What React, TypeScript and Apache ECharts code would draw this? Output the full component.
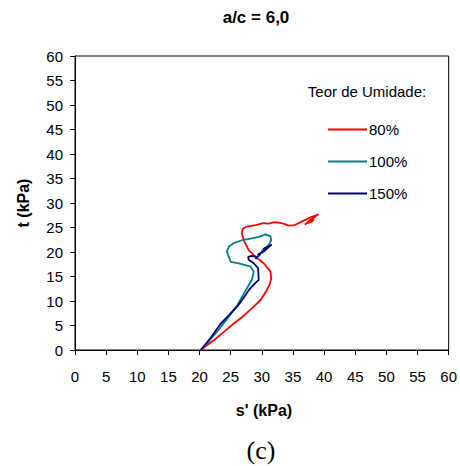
import React, { useEffect, useRef } from "react";
import * as echarts from "echarts";

const xTicks = [0, 60, 5];
const yTicks = [0, 60, 5];

const seriesNames = ["80%", "100%", "150%"];
const seriesColors = ["#ff0000", "#008080", "#000080"];

const w80: number[][] = [
  [20.2, 0], [21, 0.8], [22.3, 2.0], [24, 3.8], [25.5, 5.4], [27, 6.9], [28.4, 8.5],
  [29.8, 10.2], [30.8, 12.2], [31.3, 13.5], [31.5, 14.6], [31.4, 16.0], [30.3, 17.7],
  [29.0, 19.0], [27.9, 20.4], [27.1, 22.4], [26.8, 23.8], [26.9, 24.7], [27.6, 25.2],
  [29.0, 25.5], [30.2, 25.9], [31.1, 25.8], [32.0, 26.1], [32.7, 26.0], [33.5, 25.8],
  [34.3, 25.4], [35.3, 25.5], [36.4, 26.2], [37.5, 26.9], [38.5, 27.4], [39.1, 27.7],
  [38.3, 27.0], [37.7, 26.5], [36.9, 25.6], [37.6, 26.2], [38.4, 26.6], [37.3, 25.9],
  [38.2, 26.3],
];

const w100: number[][] = [
  [20.2, 0], [21.5, 1.8], [23, 4], [24.5, 6.5], [26, 9.0], [27.1, 11.5], [27.8, 13.0],
  [28.4, 14.3], [28.7, 16.0], [28.2, 17.0], [26.3, 17.7], [25.0, 18.0], [24.7, 19.0],
  [24.4, 20.1], [24.7, 21.1], [25.5, 21.8], [26.8, 22.4], [28.4, 22.8], [29.5, 23.1],
  [30.6, 23.6], [31.4, 23.2], [31.5, 22.4], [31.1, 21.4], [30.6, 20.8], [29.9, 20.1],
];

const w150: number[][] = [
  [20.2, 0], [21.8, 2.5], [23.4, 5.4], [24.8, 7.2], [26.0, 8.8], [27.0, 10.5],
  [27.9, 12.2], [28.9, 13.6], [29.5, 14.3], [29.4, 16.7], [28.7, 17.7], [27.9, 18.4],
  [27.8, 19.0], [28.4, 19.2], [29.2, 19.0], [29.0, 18.6], [29.8, 19.6], [29.3, 19.4],
  [30.4, 20.3], [29.6, 19.6], [30.9, 20.8], [30.2, 20.6], [31.6, 21.5], [30.8, 20.7],
  [31.3, 21.2], [30.0, 19.8], [30.6, 20.4],
];

const seriesData = [w80, w100, w150];

const FONT = "'Liberation Sans', Arial, sans-serif";

export default function App() {
  const ref = useRef<HTMLDivElement>(null);
  useEffect(() => {
    if (!ref.current) return;
    const chart = echarts.init(ref.current, null, { renderer: "svg" });
    chart.setOption({
      animation: false,
      backgroundColor: "#ffffff",
      textStyle: { fontFamily: FONT },
      grid: {
        left: 75,
        right: 10,
        top: 56,
        bottom: 116,
        show: true,
        borderColor: "#000",
        borderWidth: 1,
        backgroundColor: "transparent",
      },
      xAxis: {
        type: "value",
        min: xTicks[0],
        max: xTicks[1],
        interval: xTicks[2],
        splitLine: { show: false },
        axisLine: { show: true, lineStyle: { color: "#000", width: 1 } },
        axisTick: { show: true, inside: false, length: 5, lineStyle: { color: "#000" } },
        axisLabel: { color: "#000", fontSize: 15, fontFamily: FONT, margin: 19 },
      },
      yAxis: {
        type: "value",
        min: yTicks[0],
        max: yTicks[1],
        interval: yTicks[2],
        splitLine: { show: false },
        axisLine: { show: true, lineStyle: { color: "#000", width: 1 } },
        axisTick: { show: true, inside: false, length: 5, lineStyle: { color: "#000" } },
        axisLabel: { color: "#000", fontSize: 15, fontFamily: FONT, margin: 12 },
      },
      legend: {
        orient: "vertical",
        left: 323,
        top: 117,
        itemWidth: 39,
        itemHeight: 2,
        itemGap: 17,
        icon: "rect",
        textStyle: { color: "#000", fontSize: 15, fontFamily: FONT, padding: [0, 0, 0, -3] },
        data: seriesNames,
      },
      graphic: [
        {
          type: "text",
          style: {
            text: "a/c = 6,0",
            x: 256,
            y: 17,
            align: "center",
            verticalAlign: "middle",
            font: `bold 17px ${FONT}`,
            fill: "#000",
          },
        },
        {
          type: "text",
          style: {
            text: "Teor de Umidade:",
            x: 367,
            y: 91,
            align: "center",
            verticalAlign: "middle",
            font: `15px ${FONT}`,
            fill: "#000",
          },
        },
        {
          type: "text",
          x: 23,
          y: 203,
          rotation: Math.PI / 2,
          style: {
            text: "t (kPa)",
            x: 0,
            y: 0,
            align: "center",
            verticalAlign: "middle",
            font: `bold 16px ${FONT}`,
            fill: "#000",
          },
        },
        {
          type: "text",
          style: {
            text: "s' (kPa)",
            x: 264,
            y: 410,
            align: "center",
            verticalAlign: "middle",
            font: `bold 16px ${FONT}`,
            fill: "#000",
          },
        },
        {
          type: "text",
          style: {
            text: "(c)",
            x: 261,
            y: 450,
            align: "center",
            verticalAlign: "middle",
            font: `26px 'Liberation Serif', 'Times New Roman', serif`,
            fill: "#000",
          },
        },
      ],
      series: seriesNames.map((name, i) => ({
        name,
        type: "line",
        data: seriesData[i],
        showSymbol: false,
        symbol: "none",
        color: seriesColors[i],
        lineStyle: { color: seriesColors[i], width: 1.8 },
      })),
    });
    return () => chart.dispose();
  }, []);
  return (
    <div
      ref={ref}
      style={{ position: "fixed", left: 0, top: 0, width: 460, height: 466 }}
    />
  );
}
